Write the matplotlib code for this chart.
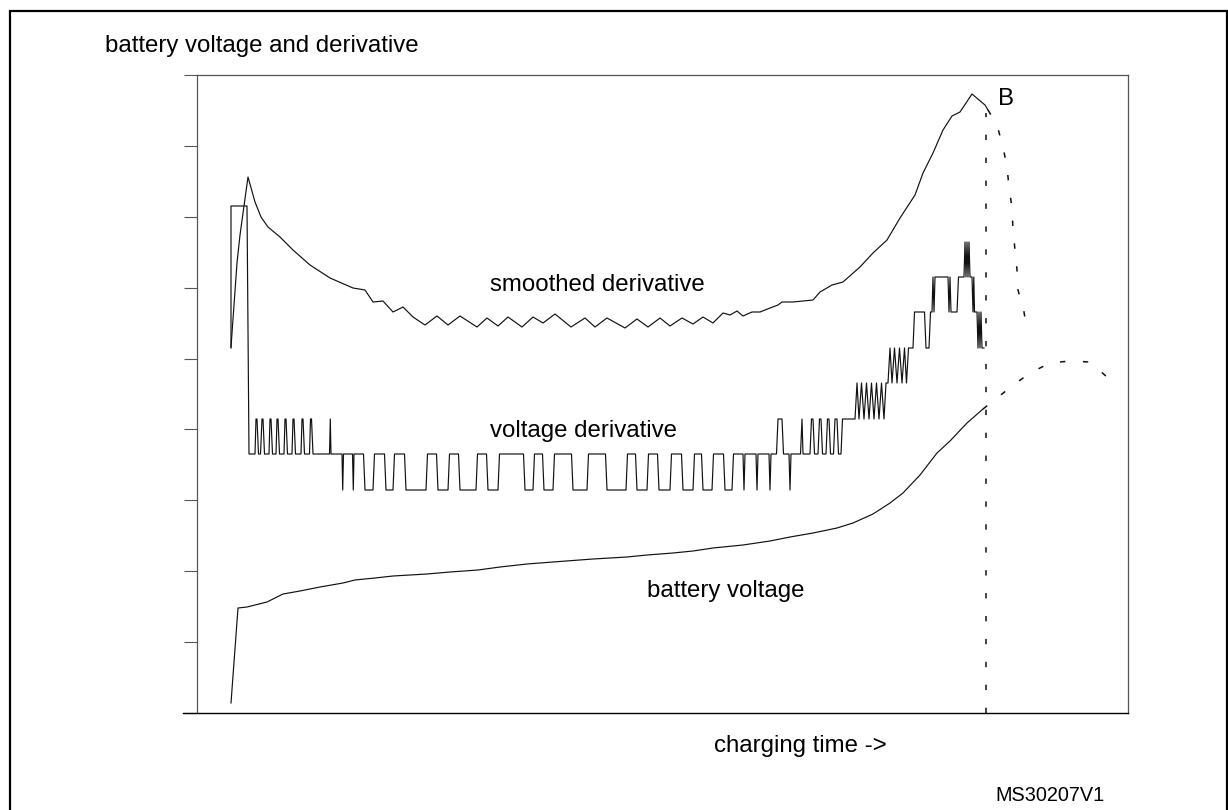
import matplotlib
matplotlib.use("Agg")
import matplotlib.pyplot as plt
from matplotlib.patches import Rectangle

plt.rcParams['font.family'] = ['Liberation Sans', 'DejaVu Sans']

# ---- data (time units, arbitrary voltage units) ----
smooth_t = [34, 40, 43, 51, 58, 64, 71, 83, 96, 113, 133, 156, 168, 176, 186, 196, 206, 216,
            228, 240, 251, 263, 280, 290, 301, 311, 325, 336, 346, 358, 374, 388, 398, 410,
            428, 440, 451, 463, 473, 485, 496, 506, 516, 526, 533, 540, 546, 555, 563, 573,
            581, 585, 596, 616, 623, 635, 646, 663, 676, 690, 703, 718, 726, 736, 746, 755,
            763, 775, 788, 791]
smooth_v = [366, 450, 478, 536, 511, 496, 486, 476, 463, 448, 435, 425, 423, 411, 412, 401, 406, 396,
            388, 397, 388, 397, 386, 395, 387, 396, 386, 396, 390, 399, 386, 395, 386, 395,
            385, 394, 386, 395, 387, 395, 389, 396, 390, 400, 398, 402, 397, 401, 401, 405,
            408, 411, 411, 413, 421, 428, 431, 446, 460, 473, 495, 518, 540, 560, 583, 597,
            601, 619, 608, 603]
smooth_after_t = [791, 800, 806, 810, 812, 815, 816, 818, 820, 821, 827, 828]
smooth_after_v = [603, 588, 566, 546, 526, 505, 483, 463, 443, 423, 401, 395]

batt_t = [34, 41, 50, 70, 86, 103, 123, 146, 158, 178, 196, 230, 253, 281, 303, 330, 356, 396,
          430, 450, 476, 496, 516, 546, 573, 593, 616, 640, 656, 676, 693, 706, 723, 740,
          753, 770, 786]
batt_v = [10, 105, 106, 111, 119, 122, 126, 130, 133, 135, 137, 139, 141, 143, 146, 149, 151, 154,
          156, 158, 160, 162, 165, 168, 172, 176, 180, 185, 190, 199, 210, 220, 238, 260,
          272, 290, 304]
batt_after_t = [786, 800, 815, 833, 853, 873, 893, 910]
batt_after_v = [304, 315, 327, 340, 350, 352, 351, 336]

# quantised derivative levels
deriv_levels = [223, 259, 294, 330, 365, 401, 436, 471, 507]
deriv_t0 = [34, 34, 52, 59, 61.5, 65, 67.5, 73, 75.5, 80, 82.5, 88, 90.5, 96, 98.5, 105, 107.5,
            113.5, 116, 133.3, 134, 145.7, 146.5, 156.3, 157, 168, 177.5, 189, 197.5, 209, 230.5,
            241, 252.5, 263, 280.5, 291, 302.5, 328, 337.5, 347, 357.5, 376, 391.5, 410, 430.5,
            440, 451.5, 462, 474.5, 486, 497.5, 506, 516.5, 528, 536.5, 547, 548, 560, 561, 573,
            574, 581, 586.5, 593, 594, 605, 606, 614.5, 617.5, 622.5, 625.5, 630.5, 633.5, 638,
            641.5, 645.5, 660, 662, 664.5, 667, 669.5, 672, 674.5, 677, 679.5, 682, 684.5, 687,
            689, 693, 695, 697.5, 700, 702.5, 705, 707.5, 709.5, 711.5, 717.5, 729, 733.5, 736,
            737, 738, 752, 753, 754, 761.5, 768, 769, 770, 771, 772, 773, 776, 776.8, 777.5, 781,
            782, 783, 784, 785]
deriv_t1 = [34, 50, 58, 60, 63.5, 66, 72, 74, 79, 81, 87, 89, 95, 97, 104, 106, 112.5,
            114.5, 132.5, 133.3, 145, 145.7, 155.5, 156.3, 166.5, 176, 187.5, 196, 207.5, 229, 239.5,
            251, 261.5, 279, 289.5, 301, 326.5, 336, 345.5, 356, 374.5, 390, 408.5, 429, 438.5,
            450, 460.5, 473, 484.5, 496, 504.5, 515, 526.5, 535, 546, 547, 559, 560, 572, 573,
            579.5, 585, 592, 593, 603.5, 605, 613, 616, 621, 624, 629, 632, 636.5, 640,
            644, 658, 660, 662, 664.5, 667, 669.5, 672, 674.5, 677, 679.5, 682, 684.5, 687,
            691, 693, 695, 697.5, 700, 702.5, 705, 707.5, 709.5, 716, 727.5, 732, 735, 736,
            737, 751, 752, 753, 760, 767, 768, 769, 770, 771, 772, 775, 776, 776.8, 780, 781,
            782, 783, 784, 787]
deriv_lvl = [4, 8, 1, 2, 1, 2, 1, 2, 1, 2, 1, 2, 1, 2, 1, 2, 1,
             2, 1, 2, 1, 0, 1, 0, 1, 0, 1, 0, 1, 0, 1,
             0, 1, 0, 1, 0, 1, 0, 1, 0, 1, 0, 1, 0, 1,
             0, 1, 0, 1, 0, 1, 0, 1, 0, 1, 0, 1, 0, 1, 0,
             1, 2, 1, 0, 1, 2, 1, 2, 1, 2, 1, 2, 1, 2,
             1, 2, 3, 2, 3, 2, 3, 2, 3, 2, 3, 2, 3, 2,
             3, 4, 3, 4, 3, 4, 3, 4, 3, 4, 5, 4, 5, 6,
             5, 6, 5, 6, 5, 6, 7, 6, 7, 6, 7, 6, 5, 6, 5, 4,
             5, 4, 5, 4]

end_of_charge_t = 788.7

# ---- figure ----
W, H = 1228, 810
fig = plt.figure(figsize=(W / 100, H / 100), dpi=100)
ax = fig.add_axes([197 / W, 1 - 713 / H, (1128 - 197) / W, (713 - 75) / H])
ax.set_xlim(0, 931)
ax.set_ylim(0, 638)

lc = '#111111'
lw = 0.85
dlw = 1.1
dash = (3.5, 11.5)

ax.plot(smooth_t, smooth_v, color=lc, lw=lw)
ax.plot(smooth_after_t, smooth_after_v, color=lc, lw=dlw, dashes=dash)
ax.plot(batt_t, batt_v, color=lc, lw=lw)
ax.plot(batt_after_t, batt_after_v, color=lc, lw=dlw, dashes=dash)

dt, dv = [], []
for a, b, k in zip(deriv_t0, deriv_t1, deriv_lvl):
    dt += [a, b]
    dv += [deriv_levels[k], deriv_levels[k]]
ax.plot(dt, dv, color=lc, lw=lw)

ax.plot([end_of_charge_t, end_of_charge_t], [0, 600], color=lc, lw=dlw, dashes=dash)

# axes styling
ax.set_xticks([])
ax.set_yticks([638 * i / 9 for i in range(10)])
ax.set_yticklabels([])
ax.tick_params(axis='y', direction='out', length=9.5, width=0.8, color='#555555')
for s in ['left', 'top', 'right']:
    ax.spines[s].set_color('#555555')
    ax.spines[s].set_linewidth(0.9)
ax.spines['bottom'].set_color('black')
ax.spines['bottom'].set_linewidth(1.0)
ax.spines['bottom'].set_bounds(-14, 931)

fs = 17.3
ax.text(400, 422, 'smoothed derivative', ha='center', va='baseline', fontsize=fs)
ax.text(387, 276, 'voltage derivative', ha='center', va='baseline', fontsize=fs)
ax.text(529, 116, 'battery voltage', ha='center', va='baseline', fontsize=fs)
ax.text(809, 608, 'B', ha='center', va='baseline', fontsize=fs)

fig.text(105 / W, 1 - 52 / H, 'battery voltage and derivative', ha='left', va='baseline', fontsize=fs)
fig.text(800 / W, 1 - 752 / H, 'charging time ->', ha='center', va='baseline', fontsize=fs)
fig.text(1050 / W, 1 - 801 / H, 'MS30207V1', ha='center', va='baseline', fontsize=14.3)

fig.add_artist(Rectangle((10 / W, -0.05), (1227 - 10) / W, 1.05 - 11 / H,
                         transform=fig.transFigure, fill=False, lw=1.6, ec='black'))

fig.savefig('out.png', dpi=100)
